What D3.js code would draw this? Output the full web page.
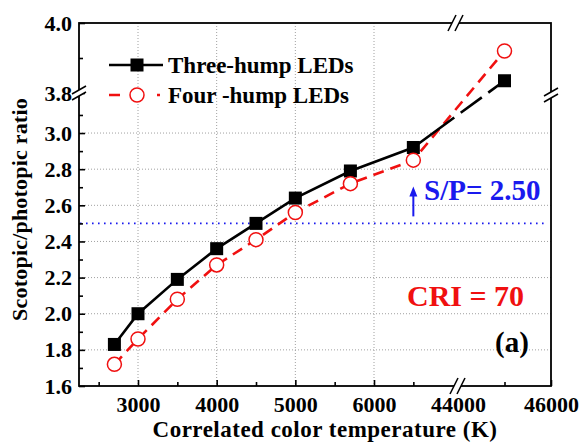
<!DOCTYPE html>
<html>
<head>
<meta charset="utf-8">
<script src="https://cdn.jsdelivr.net/npm/d3@7"></script>
<style>
  body { margin: 0; background: #fff; }
  svg text { font-family: "Liberation Serif", "DejaVu Serif", "Times New Roman", Times, serif !important; font-weight: bold; }
</style>
</head>
<body>
<svg id="chart" width="581" height="444"></svg>
<script>
// data
const cct = [2700, 3000, 3500, 4000, 4500, 5000, 5700, 6500, 45000];
const threeHump = [1.83, 2.00, 2.19, 2.36, 2.50, 2.64, 2.79, 2.92, 3.835];
const fourHump = [1.72, 1.86, 2.08, 2.27, 2.41, 2.56, 2.72, 2.85, 3.92];

const xMajor = [3000, 4000, 5000, 6000, 44000, 46000];
const xMinor = [2500, 3500, 4500, 5500, 6500, 45000];
const yMajor = [1.6, 1.8, 2.0, 2.2, 2.4, 2.6, 2.8, 3.0, 3.8, 4.0];
const yMinor = [1.7, 1.9, 2.1, 2.3, 2.5, 2.7, 2.9, 3.1, 3.9];
const xGrid = [3000, 4000, 5000, 6000];
const yGrid = [1.8, 2.0, 2.2, 2.4, 2.6, 2.8, 3.0];
const spLevel = 2.50;

const frame = { left: 79, right: 551, top: 23, bottom: 386 };
const xBreakPx = 457.5, yBreakPx = 95;

// broken axes: two linear pieces each
const xLo = d3.scaleLinear([2250, 7055], [frame.left, 457]);
const xHi = d3.scaleLinear([44000, 46000], [458, frame.right]);
const yLo = d3.scaleLinear([1.6, 3.2], [frame.bottom, 96.9]);
const yHi = d3.scaleLinear([3.8, 4.0], [93, frame.top]);
const x = v => v < 20000 ? xLo(v) : xHi(v);
const y = v => v < 3.5 ? yLo(v) : yHi(v);

const svg = d3.select("#chart");

// grid
const grid = svg.append("g").attr("class", "grid")
  .attr("stroke", "#a0a0a0").attr("stroke-width", 1).attr("stroke-dasharray", "1,2");
grid.selectAll("line.v").data(xGrid).join("line").attr("class", "v")
  .attr("x1", d => x(d)).attr("x2", d => x(d))
  .attr("y1", frame.top).attr("y2", frame.bottom);
grid.selectAll("line.h").data(yGrid).join("line").attr("class", "h")
  .attr("x1", frame.left).attr("x2", frame.right)
  .attr("y1", d => y(d)).attr("y2", d => y(d));

// S/P reference line
svg.append("line")
  .attr("x1", frame.left + 1).attr("x2", 544)
  .attr("y1", y(spLevel)).attr("y2", y(spLevel))
  .attr("stroke", "#1a1aee").attr("stroke-width", 1.6)
  .attr("stroke-dasharray", "1.6,4.4");

// series
const pts3 = cct.map((c, i) => [x(c), y(threeHump[i])]);
const pts4 = cct.map((c, i) => [x(c), y(fourHump[i])]);
const line = d3.line();

svg.append("path").attr("d", line(pts4))
  .attr("fill", "none").attr("stroke", "#f01010").attr("stroke-width", 2.6)
  .attr("stroke-dasharray", "11,7");

svg.append("path").attr("d", line(pts3.slice(0, 8)))
  .attr("fill", "none").attr("stroke", "#000").attr("stroke-width", 2.6);

// last black segment crosses both breaks: leave gaps there
{
  const [p0, p1] = [pts3[7], pts3[8]];
  const L = Math.hypot(p1[0] - p0[0], p1[1] - p0[1]);
  const t1 = (xBreakPx - p0[0]) / (p1[0] - p0[0]);
  const t2 = (p0[1] - yBreakPx) / (p0[1] - p1[1]);
  const g = 8;
  const dash = [t1 * L - g / 2, g, (t2 - t1) * L - g, g, L];
  svg.append("path").attr("d", line([p0, p1]))
    .attr("fill", "none").attr("stroke", "#000").attr("stroke-width", 2.6)
    .attr("stroke-dasharray", dash.join(","));
}

svg.selectAll("rect.sq").data(pts3).join("rect").attr("class", "sq")
  .attr("x", d => d[0] - 6.5).attr("y", d => d[1] - 6.5)
  .attr("width", 13).attr("height", 13).attr("fill", "#000");

svg.selectAll("circle.ci").data(pts4).join("circle").attr("class", "ci")
  .attr("cx", d => d[0]).attr("cy", d => d[1]).attr("r", 7)
  .attr("fill", "#fff").attr("stroke", "#f01010").attr("stroke-width", 1.5);

// frame
svg.append("rect")
  .attr("x", frame.left).attr("y", frame.top)
  .attr("width", frame.right - frame.left).attr("height", frame.bottom - frame.top)
  .attr("fill", "none").attr("stroke", "#000").attr("stroke-width", 1.8);

// axes (ticks point inward)
function styleAxis(g) {
  g.selectAll(".domain").remove();
  g.selectAll("line").attr("stroke", "#000").attr("stroke-width", 1.6);
  g.selectAll("text").attr("font-size", 22).attr("fill", "#000");
}
function xAxis(scale, major, minor) {
  const g = svg.append("g").attr("transform", `translate(0,${frame.bottom})`);
  g.call(d3.axisBottom(scale).tickValues(major).tickSize(-6).tickPadding(10)
    .tickFormat(d3.format("d")));
  g.append("g").call(d3.axisBottom(scale).tickValues(minor).tickSize(-4).tickFormat(""));
  styleAxis(g);
}
function yAxis(scale, major, minor) {
  const g = svg.append("g").attr("transform", `translate(${frame.left},0)`);
  g.call(d3.axisLeft(scale).tickValues(major).tickSize(-6).tickPadding(7)
    .tickFormat(d3.format(".1f")));
  g.append("g").call(d3.axisLeft(scale).tickValues(minor).tickSize(-4).tickFormat(""));
  styleAxis(g);
}
xAxis(xLo, xMajor.filter(d => d < 20000), xMinor.filter(d => d < 20000));
xAxis(xHi, xMajor.filter(d => d > 20000), xMinor.filter(d => d > 20000));
yAxis(yLo, yMajor.filter(d => d < 3.5), yMinor.filter(d => d < 3.5));
yAxis(yHi, yMajor.filter(d => d > 3.5), yMinor.filter(d => d > 3.5));

// break marks
function breakMark(cx, cy, vertical) {
  const a = vertical ? [4, 8] : [7, 4];      // half extent of each slash
  const o = vertical ? [3.5, 0] : [0, 3];    // offset between the two slashes
  const s1 = [[cx - a[0] - o[0], cy + a[1] - o[1]], [cx + a[0] - o[0], cy - a[1] - o[1]]];
  const s2 = [[cx - a[0] + o[0], cy + a[1] + o[1]], [cx + a[0] + o[0], cy - a[1] + o[1]]];
  svg.append("path").attr("d", d3.line()([s1[0], s1[1], s2[1], s2[0]]) + "Z")
    .attr("fill", "#fff");
  [s1, s2].forEach(s => svg.append("path").attr("d", d3.line()(s))
    .attr("stroke", "#000").attr("stroke-width", 1.5));
}
breakMark(xBreakPx, frame.bottom, true);
breakMark(xBreakPx - 2, frame.top, true);
breakMark(frame.left, yBreakPx - 2, false);
breakMark(frame.right, yBreakPx, false);

// axis titles
svg.append("text").attr("x", 325).attr("y", 437).attr("text-anchor", "middle")
  .attr("font-size", 23).attr("letter-spacing", 0.5).text("Correlated color temperature (K)");
svg.append("text").attr("transform", `translate(27,${(frame.top + frame.bottom) / 2 + 5}) rotate(-90)`)
  .attr("text-anchor", "middle").attr("font-size", 22).attr("letter-spacing", 0.2)
  .text("Scotopic/photopic ratio");

// legend
const leg = svg.append("g");
leg.append("line").attr("x1", 109).attr("x2", 163).attr("y1", 65).attr("y2", 65)
  .attr("stroke", "#000").attr("stroke-width", 2.6);
leg.append("rect").attr("x", 137 - 6.5).attr("y", 65 - 6.5).attr("width", 13).attr("height", 13);
leg.append("text").attr("x", 168).attr("y", 73).attr("font-size", 23).text("Three-hump LEDs");
leg.append("line").attr("x1", 109).attr("x2", 163).attr("y1", 95).attr("y2", 95)
  .attr("stroke", "#f01010").attr("stroke-width", 2.6).attr("stroke-dasharray", "11,37,3,20");
leg.append("circle").attr("cx", 137).attr("cy", 95).attr("r", 7)
  .attr("fill", "#fff").attr("stroke", "#f01010").attr("stroke-width", 1.5);
leg.append("text").attr("x", 168).attr("y", 103).attr("font-size", 23).text("Four -hump LEDs");

// annotations
const arrowX = x(6500);
svg.append("line").attr("x1", arrowX).attr("x2", arrowX)
  .attr("y1", y(spLevel) - 7).attr("y2", y(spLevel) - 28)
  .attr("stroke", "#1a1aee").attr("stroke-width", 2);
svg.append("path")
  .attr("d", d3.line()([[arrowX - 4, y(spLevel) - 27], [arrowX, y(spLevel) - 37], [arrowX + 4, y(spLevel) - 27]]) + "Z")
  .attr("fill", "#1a1aee");
svg.append("text").attr("x", 424).attr("y", 200).attr("font-size", 29)
  .attr("fill", "#1a1aee").text("S/P= 2.50");
svg.append("text").attr("x", 407).attr("y", 306).attr("font-size", 30)
  .attr("fill", "#f01010").text("CRI = 70");
svg.append("text").attr("x", 495).attr("y", 352).attr("font-size", 29)
  .attr("fill", "#000").text("(a)");
</script>
</body>
</html>
